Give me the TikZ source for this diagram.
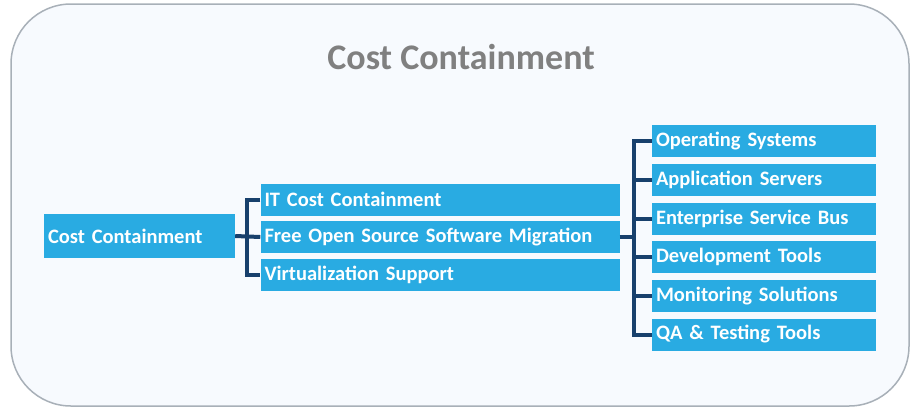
\documentclass[tikz,border=0pt]{standalone}
\usepackage{fontspec}
\setmainfont{Carlito}
\usepackage{tikz}
\usetikzlibrary{positioning}

\definecolor{boxblue}{RGB}{41,171,226}
\definecolor{linknavy}{RGB}{24,64,108}
\definecolor{panelbg}{RGB}{247,250,254}
\definecolor{panelrim}{RGB}{168,176,184}
\definecolor{titlegray}{RGB}{128,128,128}

\begin{document}
\begin{tikzpicture}[x=1pt,y=-1pt,
	every node/.style={fill=boxblue,text=white,font=\bfseries\fontsize{20.5}{22}\selectfont,
		inner xsep=4pt,inner ysep=0pt,align=left},
	rootbox/.style={text width=183pt,minimum height=44pt},
	midbox/.style={text width=351pt,minimum height=32pt},
	leafbox/.style={text width=216pt,minimum height=32pt},
	link/.style={draw=linknavy,line width=4pt}]
		\useasboundingbox (0,0) rectangle (917,408);

		%panel
		\draw[fill=panelbg,draw=panelrim,line width=1.5pt,rounded corners=60pt] (11,4) rectangle (909,406);
		\node[fill=none,text=titlegray,font=\bfseries\fontsize{36}{40}\selectfont] (title) at (461,57) {Cost Containment};

		%left node
		\node[rootbox] (root) at (139.5,236) {Cost Containment};

		%middle nodes
		\node[midbox] (n1) at (440,199.5) {IT Cost Containment};
		\node[midbox] (n2) at (440,237) {Free Open Source Software Migration};
		\node[midbox] (n3) at (440,274.5) {Virtualization Support};

		%right nodes
		\node[leafbox] (m1) at (764,141) {Operating Systems};
		\node[leafbox] (m2) at (764,180.3) {Application Servers};
		\node[leafbox] (m3) at (764,218.8) {Enterprise Service Bus};
		\node[leafbox] (m4) at (764,257.3) {Development Tools};
		\node[leafbox] (m5) at (764,295.8) {Monitoring Solutions};
		\node[leafbox] (m6) at (764,334.5) {QA \& Testing Tools};

		%edges
		\coordinate (b1) at (247,236);
		\coordinate (b2) at (634,237);
		\draw[link] (root.east) -- (n2.west);
		\draw[link] (n1.west) -| (b1) |- (n3.west);
		\draw[link] (n2.east) -- (b2);
		\draw[link] (m1.west) -| (b2) |- (m6.west);
		\foreach \m in {m2,m3,m4,m5}
			\draw[link] (b2 |- \m.west) -- (\m.west);
	\end{tikzpicture}
\end{document}
